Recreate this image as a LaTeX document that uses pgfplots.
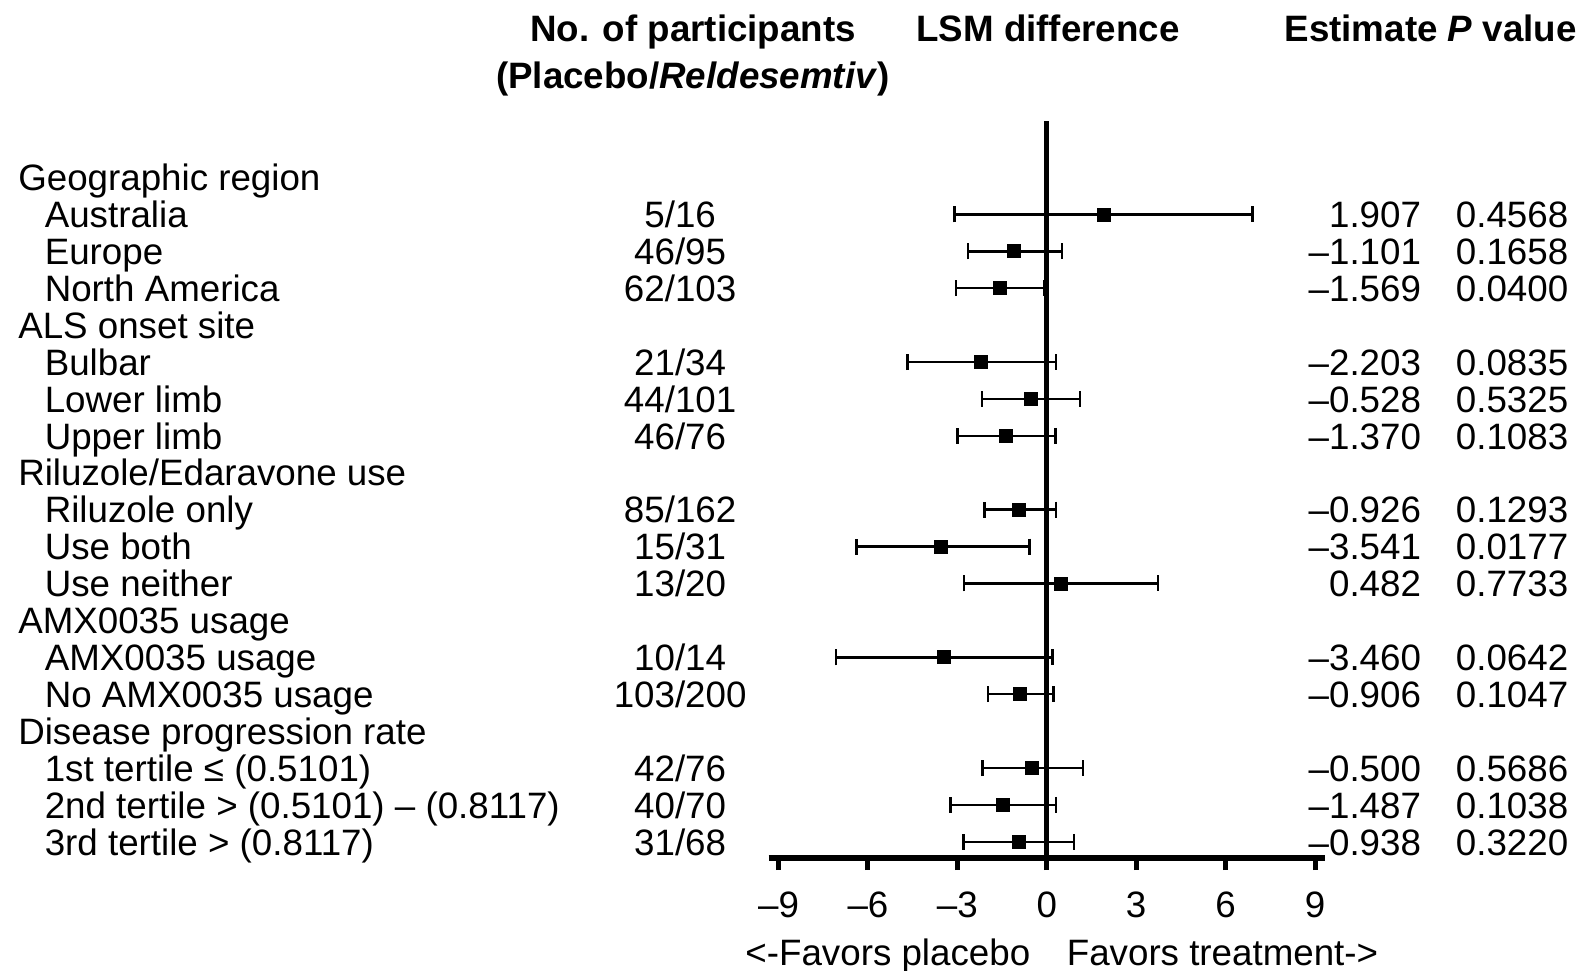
\documentclass[border=0pt]{standalone}
\usepackage{fontspec}
\setmainfont{Liberation Sans}
\usepackage{pgfplots}
\pgfplotsset{compat=1.18}
\usepackage{pgfplotstable}
\newcommand\fs{\fontsize{10.45}{12.5}\selectfont}

\pgfplotstableread{
x y em ep
1.907 -1 4.997 4.993
-1.101 -2 1.539 1.621
-1.569 -3 1.481 1.489
-2.203 -5 2.477 2.513
-0.528 -6 1.642 1.638
-1.370 -7 1.630 1.660
-0.926 -9 1.164 1.236
-3.541 -10 2.839 2.961
0.482 -11 3.262 3.248
-3.460 -13 3.620 3.650
-0.906 -14 1.064 1.126
-0.500 -16 1.660 1.720
-1.487 -17 1.743 1.797
-0.938 -18 1.852 1.858
}\lsm

\tikzset{lab/.style={font=\fs, inner sep=0pt, yshift=-1.32mm},
         hd/.style={font=\fs\bfseries, inner sep=0pt}}
\newcommand\grp[2]{\node[lab,anchor=base west] at (axis cs:-34.53,#1) {#2};}
\newcommand\row[5]{%
 \node[lab,anchor=base west] at (axis cs:-33.64,#1) {#2};
 \node[lab,anchor=base] at (axis cs:-12.30,#1) {#3};
 \node[lab,anchor=base east] at (axis cs:12.58,#1) {#4};
 \node[lab,anchor=base east] at (axis cs:17.52,#1) {#5};}

\begin{document}
\begin{tikzpicture}
\begin{axis}[
  scale only axis,
  width=55.607mm, height=73.73mm,
  xmin=-9.33, xmax=9.33,
  ymin=-18.44, ymax=1.54,
  clip=false,
  axis x line*=bottom,
  axis y line=none,
  x axis line style={line width=1.62pt},
  xtick={-9,-6,-3,0,3,6,9},
  xticklabels={–9,–6,–3,0,3,6,9},
  tick align=outside,
  major tick length=1.2mm,
  xtick style={line width=1.42pt, black},
  xticklabel style={font=\fs, anchor=base, inner sep=0pt, yshift=-4.73mm},
  ytick=\empty,
]
\addplot[black, line width=1.34pt] coordinates {(0,-18.44) (0,1.54)};
\addplot[black, only marks, mark=square*, mark size=0.65mm,
  mark options={solid, fill=black, draw=black, line width=0.2pt},
  error bars/.cd, x dir=both, x explicit,
  error mark=|,
  error bar style={line width=0.7pt, black},
  error mark options={line width=0.7pt, mark size=0.8mm, black}]
  table[x=x, y=y, x error plus=ep, x error minus=em] {\lsm};

\node[hd, anchor=base] at (axis cs:-11.87,3.69) {No. of participants};
\node[hd, anchor=base] at (axis cs:-11.87,2.40) {(Placebo/\textit{Reldesemtiv})};
\node[hd, anchor=base] at (axis cs:0.04,3.69) {LSM difference};
\node[hd, anchor=base east] at (axis cs:17.80,3.69) {Estimate \textit{P} value};

\grp{0}{Geographic region}
\row{-1}{Australia}{5/16}{1.907}{0.4568}
\row{-2}{Europe}{46/95}{–1.101}{0.1658}
\row{-3}{North America}{62/103}{–1.569}{0.0400}
\grp{-4}{ALS onset site}
\row{-5}{Bulbar}{21/34}{–2.203}{0.0835}
\row{-6}{Lower limb}{44/101}{–0.528}{0.5325}
\row{-7}{Upper limb}{46/76}{–1.370}{0.1083}
\grp{-8}{Riluzole/Edaravone use}
\row{-9}{Riluzole only}{85/162}{–0.926}{0.1293}
\row{-10}{Use both}{15/31}{–3.541}{0.0177}
\row{-11}{Use neither}{13/20}{0.482}{0.7733}
\grp{-12}{AMX0035 usage}
\row{-13}{AMX0035 usage}{10/14}{–3.460}{0.0642}
\row{-14}{No AMX0035 usage}{103/200}{–0.906}{0.1047}
\grp{-15}{Disease progression rate}
\row{-16}{1st tertile ≤ (0.5101)}{42/76}{–0.500}{0.5686}
\row{-17}{2nd tertile > (0.5101) – (0.8117)}{40/70}{–1.487}{0.1038}
\row{-18}{3rd tertile > (0.8117)}{31/68}{–0.938}{0.3220}

\node[font=\fs, inner sep=0pt, anchor=base east] at (axis cs:-0.53,-21.34) {<-Favors placebo};
\node[font=\fs, inner sep=0pt, anchor=base west] at (axis cs:0.65,-21.34) {Favors treatment->};

\coordinate (BL) at (axis cs:-35.12,-21.48);
\coordinate (TR) at (axis cs:17.89,4.81);
\end{axis}
\pgfresetboundingbox
\path[use as bounding box] (BL) rectangle (TR);
\end{tikzpicture}
\end{document}
